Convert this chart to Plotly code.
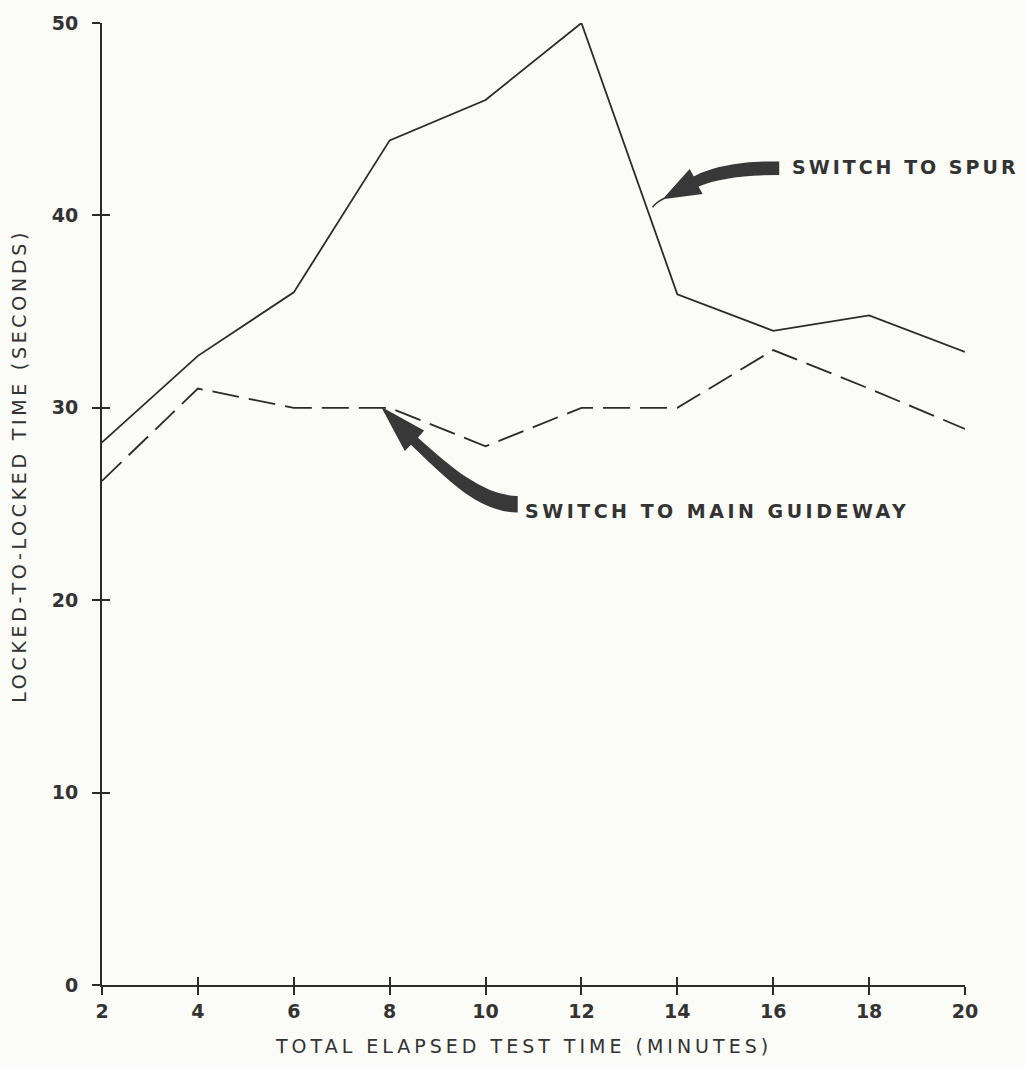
import plotly.graph_objects as go

# ---- data ----
elapsed_min = [2, 4, 6, 8, 10, 12, 14, 16, 18, 20]
series_solid = [28.2, 32.7, 36.0, 43.9, 46.0, 50.0, 35.9, 34.0, 34.8, 32.9]
series_dashed = [26.2, 31.0, 30.0, 30.0, 28.0, 30.0, 30.0, 33.0, 31.0, 28.9]
x_ticks = [2, 4, 6, 8, 10, 12, 14, 16, 18, 20]
y_ticks = [0, 10, 20, 30, 40, 50]

label_spur = "SWITCH TO SPUR"
label_main = "SWITCH TO MAIN GUIDEWAY"
x_title = "TOTAL ELAPSED TEST TIME (MINUTES)"
y_title = "LOCKED-TO-LOCKED TIME (SECONDS)"

# annotation anchors (data coords)
spur_anchor = (16.36, 42.5)
main_anchor = (10.78, 24.65)

BG = "#fbfbf7"
INK = "#2b2b2b"
TXT = "#333333"


def spaced(text, px):
    return '<span style="letter-spacing:%spx">%s</span>' % (px, text)


fig = go.Figure()
fig.add_trace(go.Scatter(
    x=elapsed_min, y=series_solid, mode="lines",
    line=dict(color=INK, width=1.8), cliponaxis=False,
    showlegend=False, hoverinfo="x+y", name="solid"))
fig.add_trace(go.Scatter(
    x=elapsed_min, y=series_dashed, mode="lines",
    line=dict(color=INK, width=1.8, dash="27px,10px"), cliponaxis=False,
    showlegend=False, hoverinfo="x+y", name="dashed"))
# dummy trace to activate overlay axes (used for inner half of crossing ticks)
fig.add_trace(go.Scatter(x=[None], y=[None], xaxis="x2", yaxis="y2",
                         showlegend=False, hoverinfo="skip"))

tickfont = dict(family="DejaVu Sans", size=19, color=TXT, weight="bold")

fig.update_layout(
    width=1025, height=1067,
    margin=dict(l=102, r=60, t=21, b=82),
    paper_bgcolor=BG, plot_bgcolor=BG,
    xaxis=dict(range=[2, 20], tickvals=x_ticks, ticks="outside", ticklen=8,
               tickwidth=2, tickcolor=INK, showline=True, linecolor=INK,
               linewidth=2, showgrid=False, zeroline=False, tickfont=tickfont,
               anchor="y"),
    yaxis=dict(range=[0, 50], tickvals=y_ticks, ticks="outside", ticklen=8,
               tickwidth=2, tickcolor=INK, showline=True, linecolor=INK,
               linewidth=2, showgrid=False, zeroline=False, tickfont=tickfont,
               ticklabelstandoff=10, anchor="x"),
    xaxis2=dict(range=[2, 20], tickvals=x_ticks, ticks="inside", ticklen=8,
                tickwidth=2, tickcolor=INK, showline=False, showgrid=False,
                zeroline=False, showticklabels=False, overlaying="x",
                anchor="y2", side="bottom"),
    yaxis2=dict(range=[0, 50], tickvals=y_ticks, ticks="inside", ticklen=8,
                tickwidth=2, tickcolor=INK, showline=False, showgrid=False,
                zeroline=False, showticklabels=False, overlaying="y",
                anchor="x2", side="left"),
)

# axis titles
fig.add_annotation(text=spaced(x_title, 4), xref="paper", yref="paper", x=0.488, y=-0.0635,
                   showarrow=False, xanchor="center", yanchor="middle",
                   font=dict(family="DejaVu Sans", size=19, color=TXT))
fig.add_annotation(text=spaced(y_title, 3.7), xref="paper", yref="paper", x=-0.097, y=0.54,
                   textangle=-90, showarrow=False, xanchor="center", yanchor="middle",
                   font=dict(family="DejaVu Sans", size=19, color=TXT))

# callout labels
lblfont = dict(family="DejaVu Sans", size=19, color=TXT, weight="bold")
fig.add_annotation(text=spaced(label_spur, 3), x=spur_anchor[0], y=spur_anchor[1],
                   xanchor="left", yanchor="middle", showarrow=False, font=lblfont)
fig.add_annotation(text=spaced(label_main, 3.5), x=main_anchor[0], y=main_anchor[1],
                   xanchor="left", yanchor="middle", showarrow=False, font=lblfont)

ARROW = "#383838"
# curved arrows (pixel offsets relative to label anchor, y up)
spur_body = ("M -12,5 C -40,6 -75,2 -97,-10 L -101,-3 L -126,-31 L -89,-26 "
             "L -93,-19 C -70,-9 -40,-7 -12,-7 Z")
spur_tail = "M -126,-31 Q -133,-34 -138,-40"
main_body = ("M -6,14 C -40,14 -75,45 -106,73 L -100,80 L -140,102 L -118,61 "
             "L -112,67 C -80,36 -45,-1 -6,-1 Z")

for path, anc, filled in [(spur_body, spur_anchor, True),
                          (spur_tail, spur_anchor, False),
                          (main_body, main_anchor, True)]:
    fig.add_shape(type="path", path=path, xref="x", yref="y",
                  xsizemode="pixel", ysizemode="pixel",
                  xanchor=anc[0], yanchor=anc[1],
                  fillcolor=ARROW if filled else "rgba(0,0,0,0)",
                  line=dict(color=ARROW, width=1.5), layer="above")

fig.write_html("out.html", config={"displayModeBar": False},
               post_script="document.body.style.margin='0';")
